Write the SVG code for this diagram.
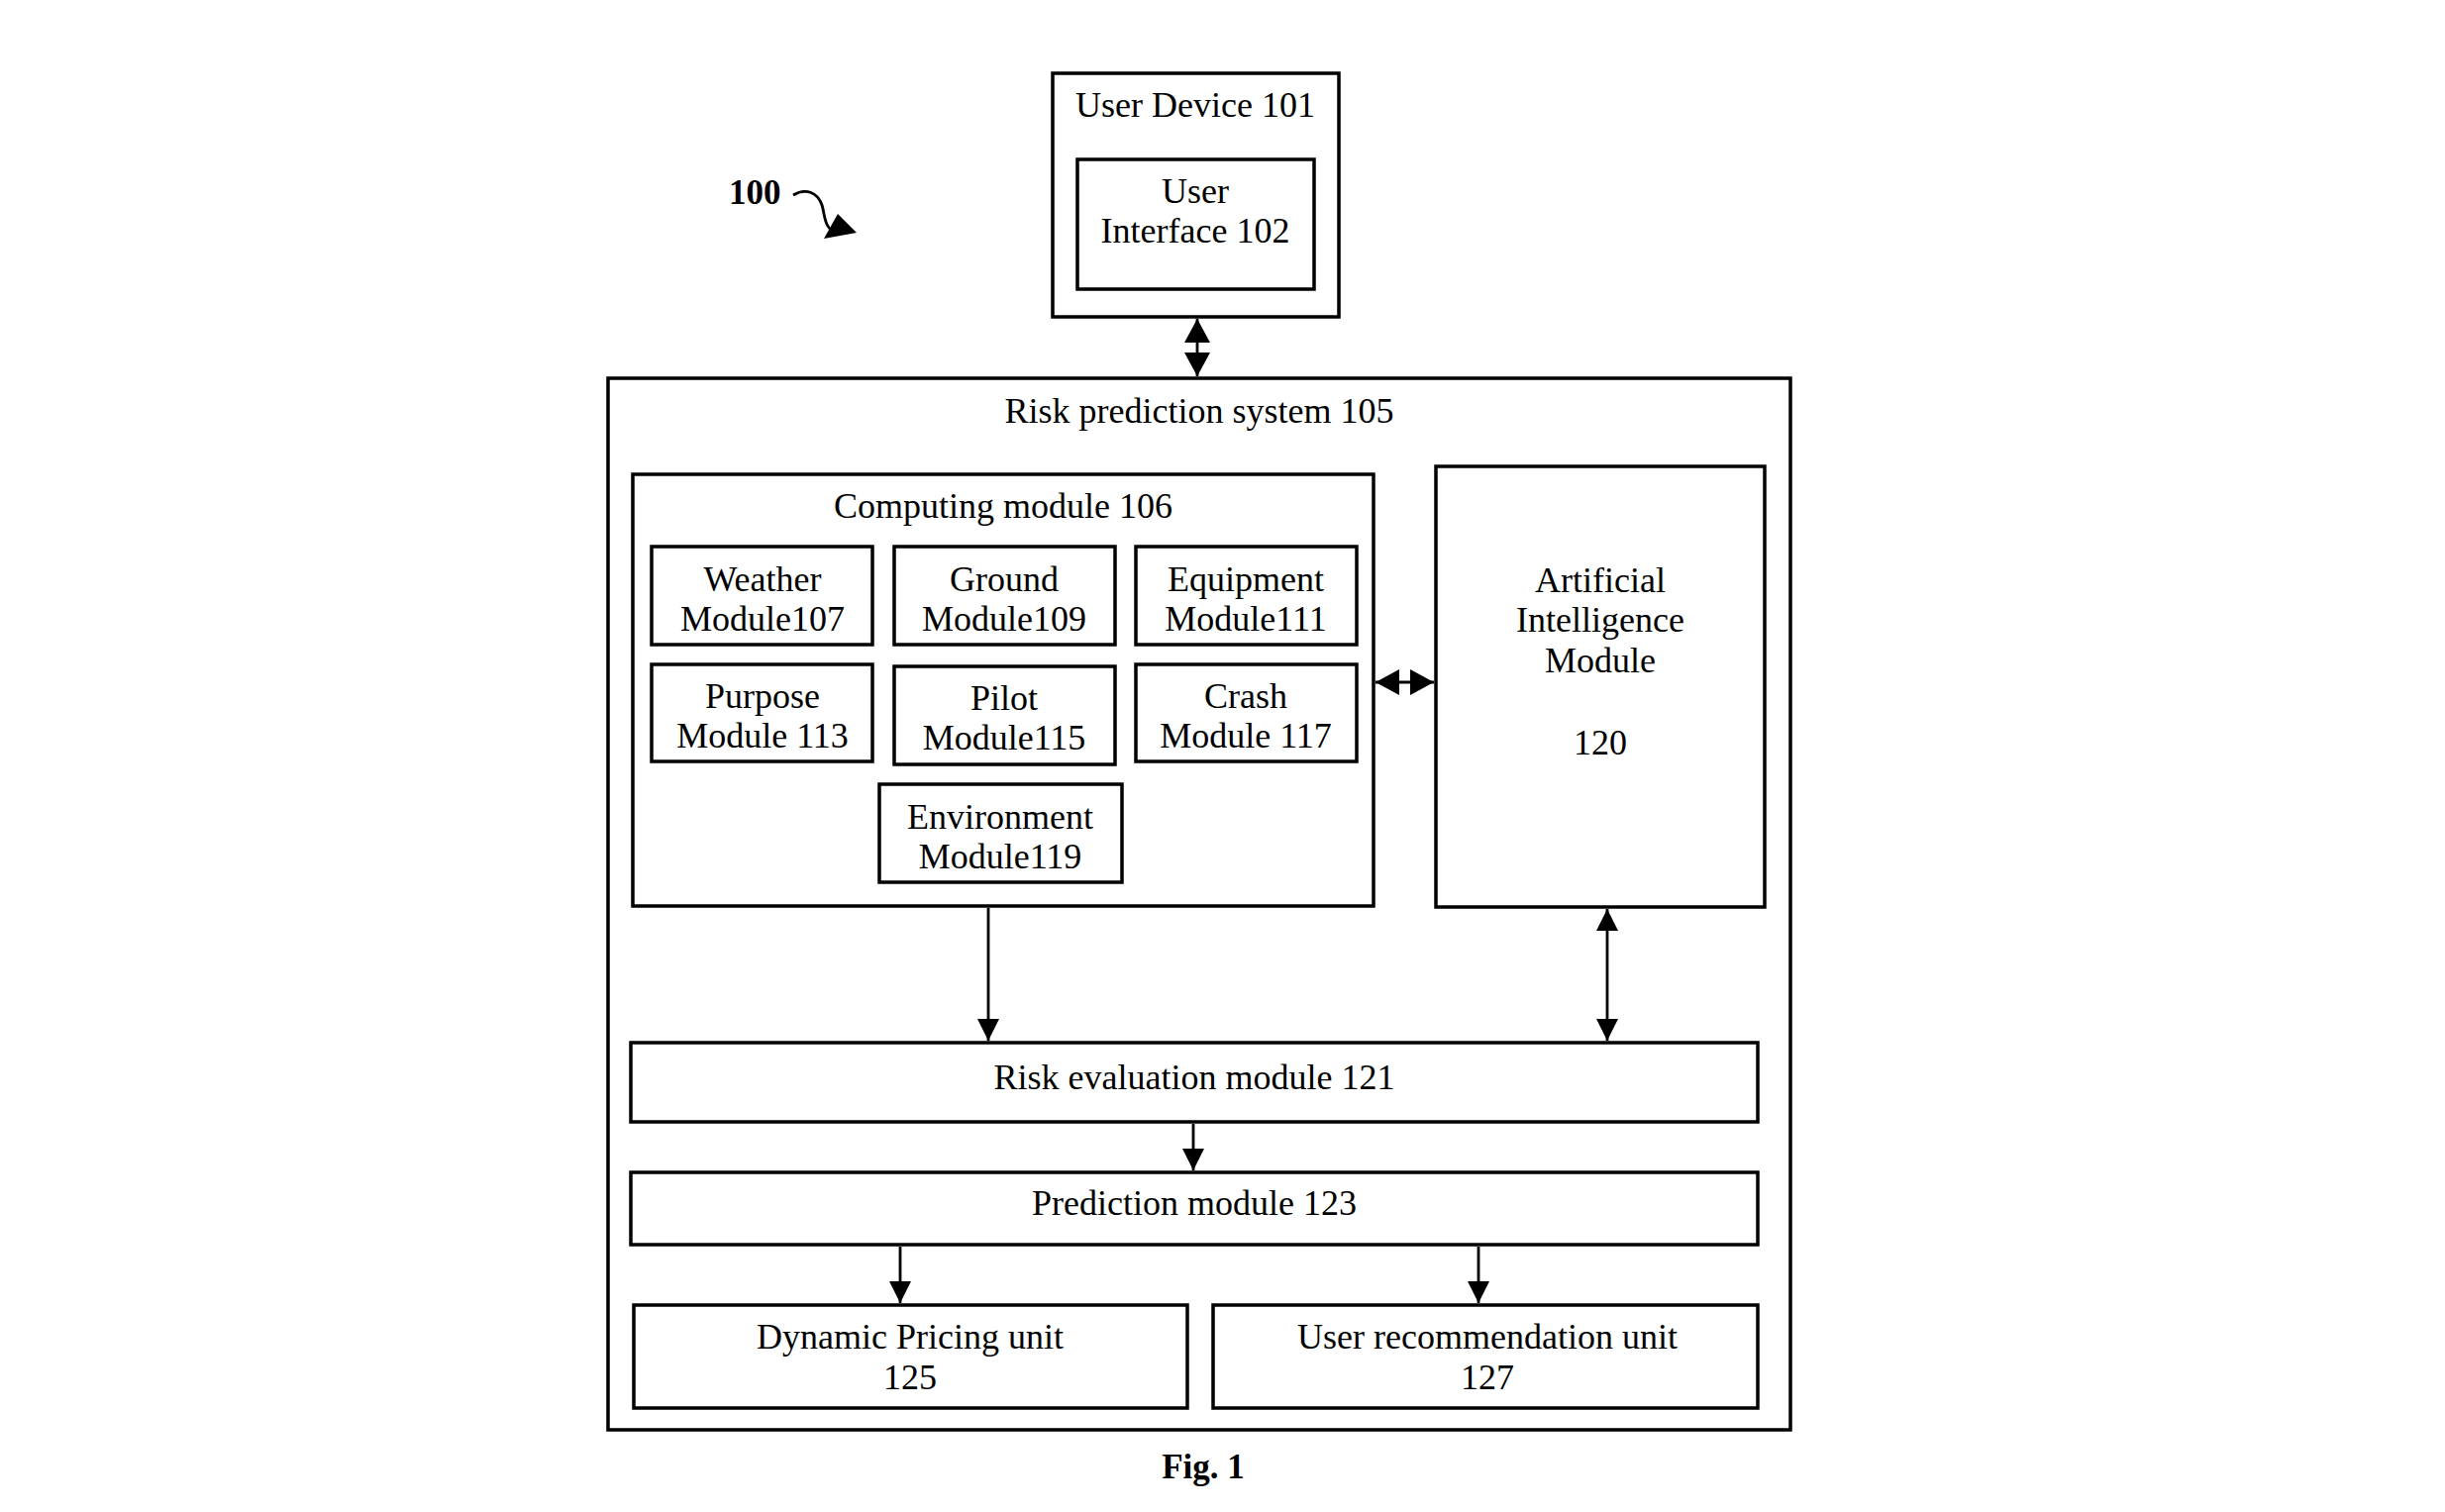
<svg xmlns="http://www.w3.org/2000/svg" width="2469" height="1527" viewBox="0 0 2469 1527">
<style>
.box{fill:none;stroke:#000;stroke-width:3.5}
.sub{fill:none;stroke:#000;stroke-width:3.5}
.t{font-family:"Liberation Serif","Times New Roman",serif;font-size:36px;fill:#000;text-anchor:middle}
.b{font-family:"Liberation Serif","Times New Roman",serif;font-size:35px;font-weight:bold;fill:#000}
.c{fill:none;stroke:#000;stroke-width:2.8}
</style>
<defs>
<marker id="ah" viewBox="0 0 22 22" refX="22" refY="11" markerWidth="22" markerHeight="22" markerUnits="userSpaceOnUse" orient="auto-start-reverse">
<path d="M0,0 L22,11 L0,22 z" fill="#000"/>
</marker>
<marker id="ahb" viewBox="0 0 24 26" refX="24" refY="13" markerWidth="24" markerHeight="26" markerUnits="userSpaceOnUse" orient="auto-start-reverse">
<path d="M0,0 L24,13 L0,26 z" fill="#000"/>
</marker>
</defs>
<rect width="2469" height="1527" fill="#fff"/>

<g id="label-100">
<text class="b" x="736" y="206">100</text>
<path d="M801,197 C814,189 826,195 830,207 C833,217 832,225 838,231" fill="none" stroke="#000" stroke-width="2.8"/>
<polygon points="832,241 846,216 865,235" fill="#000"/>
</g>

<g id="user-device">
<rect class="box" x="1063" y="74" width="289" height="246"/>
<text class="t" x="1207" y="118">User Device 101</text>
</g>
<g id="user-interface">
<rect class="box" x="1088" y="161" width="239" height="131"/>
<text class="t" x="1207" y="205">User</text>
<text class="t" x="1207" y="245">Interface 102</text>
</g>

<g id="risk-prediction-system">
<rect class="box" x="614" y="382" width="1194" height="1062"/>
<text class="t" x="1211" y="427">Risk prediction system 105</text>
</g>

<g id="computing-module">
<rect class="box" x="639" y="479" width="748" height="436"/>
<text class="t" x="1013" y="523">Computing module 106</text>
</g>

<g id="weather">
<rect class="sub" x="658" y="552" width="223" height="99"/>
<text class="t" x="770" y="597">Weather</text>
<text class="t" x="770" y="637">Module107</text>
</g>
<g id="ground">
<rect class="sub" x="903" y="552" width="223" height="99"/>
<text class="t" x="1014" y="597">Ground</text>
<text class="t" x="1014" y="637">Module109</text>
</g>
<g id="equipment">
<rect class="sub" x="1147" y="552" width="223" height="99"/>
<text class="t" x="1258" y="597">Equipment</text>
<text class="t" x="1258" y="637">Module111</text>
</g>
<g id="purpose">
<rect class="sub" x="658" y="671" width="223" height="98"/>
<text class="t" x="770" y="715">Purpose</text>
<text class="t" x="770" y="755">Module 113</text>
</g>
<g id="pilot">
<rect class="sub" x="903" y="673" width="223" height="99"/>
<text class="t" x="1014" y="717">Pilot</text>
<text class="t" x="1014" y="757">Module115</text>
</g>
<g id="crash">
<rect class="sub" x="1147" y="671" width="223" height="98"/>
<text class="t" x="1258" y="715">Crash</text>
<text class="t" x="1258" y="755">Module 117</text>
</g>
<g id="environment">
<rect class="sub" x="888" y="792" width="245" height="99"/>
<text class="t" x="1010" y="837">Environment</text>
<text class="t" x="1010" y="877">Module119</text>
</g>

<g id="ai-module">
<rect class="box" x="1450" y="471" width="332" height="445"/>
<text class="t" x="1616" y="598">Artificial</text>
<text class="t" x="1616" y="638">Intelligence</text>
<text class="t" x="1616" y="679">Module</text>
<text class="t" x="1616" y="762">120</text>
</g>

<g id="risk-evaluation">
<rect class="box" x="637" y="1053" width="1138" height="80"/>
<text class="t" x="1206" y="1100">Risk evaluation module 121</text>
</g>
<g id="prediction">
<rect class="box" x="637" y="1184" width="1138" height="73"/>
<text class="t" x="1206" y="1227">Prediction module 123</text>
</g>
<g id="dynamic-pricing">
<rect class="box" x="640" y="1318" width="559" height="104"/>
<text class="t" x="919" y="1362">Dynamic Pricing unit</text>
<text class="t" x="919" y="1403">125</text>
</g>
<g id="user-recommendation">
<rect class="box" x="1225" y="1318" width="550" height="104"/>
<text class="t" x="1502" y="1362">User recommendation unit</text>
<text class="t" x="1502" y="1403">127</text>
</g>

<g id="connectors">
<line class="c" x1="1209" y1="322" x2="1209" y2="380" marker-start="url(#ahb)" marker-end="url(#ahb)" stroke-width="4.5"/>
<line class="c" x1="1389" y1="689" x2="1448" y2="689" marker-start="url(#ahb)" marker-end="url(#ahb)"/>
<line class="c" x1="998" y1="917" x2="998" y2="1051" marker-end="url(#ah)" stroke-width="3.5"/>
<line class="c" x1="1623" y1="918" x2="1623" y2="1051" marker-start="url(#ah)" marker-end="url(#ah)"/>
<line class="c" x1="1205" y1="1135" x2="1205" y2="1182" marker-end="url(#ah)"/>
<line class="c" x1="909" y1="1259" x2="909" y2="1316" marker-end="url(#ah)"/>
<line class="c" x1="1493" y1="1259" x2="1493" y2="1316" marker-end="url(#ah)"/>
</g>

<text class="b" x="1215" y="1493" text-anchor="middle">Fig. 1</text>
</svg>
